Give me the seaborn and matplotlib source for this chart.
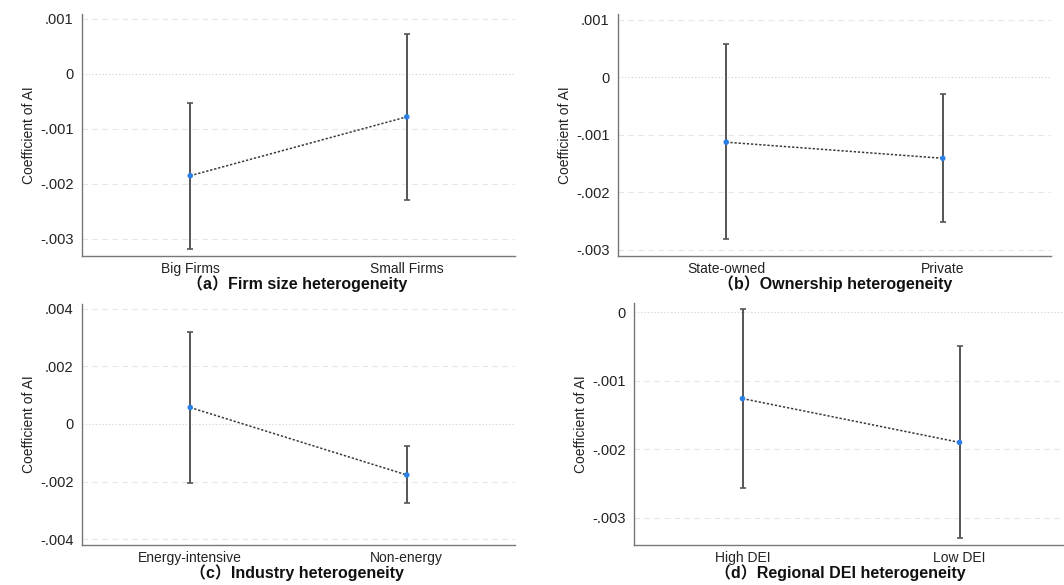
import numpy as np
import pandas as pd
import matplotlib
matplotlib.use("Agg")
import matplotlib.pyplot as plt
import seaborn as sns

# ── data ───────────────────────────────────────────────────
groups_a = ["Big Firms", "Small Firms"]
coef_a = [-0.00185, -0.00078]
lo_a = [-0.00318, -0.00229]
hi_a = [-0.00053, 0.00073]

groups_b = ["State-owned", "Private"]
coef_b = [-0.00113, -0.00141]
lo_b = [-0.00282, -0.00251]
hi_b = [0.00057, -0.00030]

groups_c = ["Energy-intensive", "Non-energy"]
coef_c = [0.00057, -0.00177]
lo_c = [-0.00206, -0.00273]
hi_c = [0.00318, -0.00077]

groups_d = ["High DEI", "Low DEI"]
coef_d = [-0.00126, -0.00190]
lo_d = [-0.00257, -0.00330]
hi_d = [0.00005, -0.00049]

titles = ["（a）Firm size heterogeneity", "（b）Ownership heterogeneity",
          "（c）Industry heterogeneity", "（d）Regional DEI heterogeneity"]

yticks_a = [0.001, 0, -0.001, -0.002, -0.003]
yticks_b = [0.001, 0, -0.001, -0.002, -0.003]
yticks_c = [0.004, 0.002, 0, -0.002, -0.004]
yticks_d = [0, -0.001, -0.002, -0.003]

# ── style ──────────────────────────────────────────────────
sns.set_theme(style="white")
plt.rcParams["font.family"] = ["Liberation Sans", "Noto Sans CJK SC", "DejaVu Sans"]

W, H = 1064, 585
fig = plt.figure(figsize=(W / 100, H / 100), dpi=100)

# axes boxes in pixels: left, top, right, bottom
boxes = [(82, 14, 515, 256), (618, 14, 1051, 256),
         (82, 304, 515, 545), (634, 303, 1068, 545)]
ylims = [(-0.00331, 0.00109), (-0.00311, 0.00110),
         (-0.00420, 0.00416), (-0.00340, 0.000137)]
title_x = [297, 835, 297, 840]

panels = [(groups_a, coef_a, lo_a, hi_a, yticks_a),
          (groups_b, coef_b, lo_b, hi_b, yticks_b),
          (groups_c, coef_c, lo_c, hi_c, yticks_c),
          (groups_d, coef_d, lo_d, hi_d, yticks_d)]


def stata_fmt(v):
    if v == 0:
        return "0"
    s = f"{v:.3f}"
    return s.replace("0.", ".", 1)


for i, (grp, coef, lo, hi, yt) in enumerate(panels):
    l, t, r, b = boxes[i]
    ax = fig.add_axes([l / W, 1 - b / H, (r - l) / W, (b - t) / H])
    df = pd.DataFrame({"group": grp, "coef": coef, "lo": lo, "hi": hi})
    xpos = np.arange(len(df))

    # grid and zero line
    for v in yt:
        if v == 0:
            ax.axhline(0, color="#cfcfcf", lw=0.8, ls=(0, (1, 2)), zorder=0)
        else:
            ax.axhline(v, color="#e6e6e6", lw=0.8, ls=(0, (5, 4)), zorder=0)

    # confidence intervals
    ax.errorbar(xpos, df["coef"],
                yerr=[df["coef"] - df["lo"], df["hi"] - df["coef"]],
                fmt="none", ecolor="#555555", elinewidth=1.4,
                capsize=2.0, capthick=1.2, zorder=2)

    # point estimates connected by dotted line
    sns.pointplot(data=df, x="group", y="coef", ax=ax, errorbar=None,
                  color="#3a3a3a", linestyle=(0, (1.5, 1.2)), linewidth=1.1,
                  markers="", zorder=3)
    sns.scatterplot(data=df, x="group", y="coef", ax=ax, color="#2a7fe6",
                    s=16, edgecolor="none", zorder=4, legend=False)

    ax.set_xlim(-0.5, 1.5)
    ax.set_ylim(*ylims[i])
    ax.set_yticks(yt)
    ax.set_yticklabels([stata_fmt(v) for v in yt])
    ax.set_xlabel("")
    ax.set_ylabel("Coefficient of AI", fontsize=10, labelpad=3, color="#222222")
    ax.tick_params(axis="both", labelsize=10.5, labelcolor="#222222",
                   color="#777777", length=4, width=0.8, direction="out", pad=2)
    ax.tick_params(axis="x", labelsize=10, pad=0.5)
    for side in ["top", "right"]:
        ax.spines[side].set_visible(False)
    for side in ["left", "bottom"]:
        ax.spines[side].set_color("#777777")
        ax.spines[side].set_linewidth(1.0)
    ax.set_facecolor("white")

    fig.text(title_x[i] / W, 1 - (b + 33) / H, titles[i], ha="center",
             va="baseline", fontsize=11.5, fontweight="bold", color="#111111")

fig.savefig("out.png", dpi=100)
